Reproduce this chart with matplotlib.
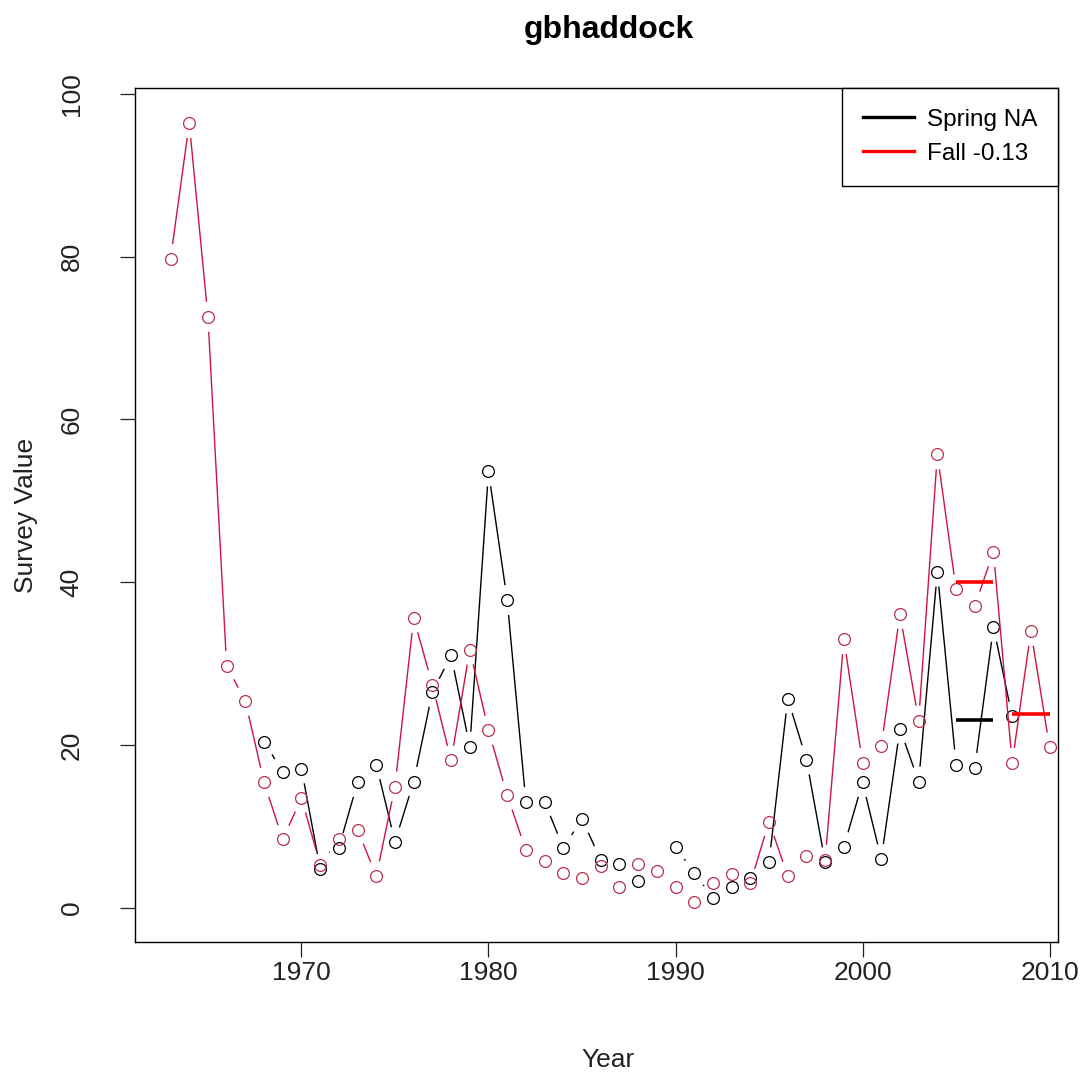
import numpy as np
import matplotlib
matplotlib.use("Agg")
import matplotlib.pyplot as plt
from matplotlib.lines import Line2D

plt.rcParams['font.family'] = ['Liberation Sans', 'DejaVu Sans']

# fall survey index, 1963-2010
fall_years = list(range(1963, 2011))
fall_vals = [79.7, 96.4, 72.6, 29.7, 25.4, 15.4, 8.4, 13.5, 5.3, 8.4,
             9.6, 3.9, 14.9, 35.6, 27.4, 18.1, 31.7, 21.8, 13.8, 7.1,
             5.7, 4.3, 3.7, 5.1, 2.5, 5.4, 4.5, 2.5, 0.7, 3.1,
             4.2, 3.0, 10.6, 3.9, 6.4, 5.9, 33.0, 17.8, 19.9, 36.1,
             23.0, 55.7, 39.1, 37.1, 43.7, 17.8, 34.0, 19.7]

# spring survey index, 1968-2008 (1989 missing)
spring_years = list(range(1968, 2009))
spring_vals = [20.4, 16.7, 17.1, 4.8, 7.4, 15.4, 17.6, 8.1, 15.5, 26.5,
               31.0, 19.8, 53.6, 37.8, 13.0, 13.0, 7.4, 10.9, 5.9, 5.4,
               3.3, np.nan, 7.5, 4.3, 1.2, 2.5, 3.6, 5.6, 25.7, 18.2,
               5.6, 7.5, 15.4, 6.0, 22.0, 15.5, 41.3, 17.6, 17.2, 34.5,
               23.5]

# periods averaged for the reference lines
fall_periods = [(2005, 2007), (2008, 2010)]
spring_periods = [(2005, 2007)]

title = "gbhaddock"
legend_labels = ["Spring NA", "Fall -0.13"]

line_red = "#d2123f"
point_red = "#b8304f"


def gapped_line(ax, x, y, color, gap=15, lw=1.0):
    # lines between points, stopping short of each marker (R type="b")
    pts = ax.transData.transform(np.column_stack([x, y]))
    inv = ax.transData.inverted()
    for p0, p1 in zip(pts[:-1], pts[1:]):
        if np.isnan(p0).any() or np.isnan(p1).any():
            continue
        d = p1 - p0
        length = np.hypot(d[0], d[1])
        if length <= 2 * gap:
            continue
        u = d / length
        seg = inv.transform(np.array([p0 + u * gap, p1 - u * gap]))
        ax.plot(seg[:, 0], seg[:, 1], color=color, lw=lw, solid_capstyle="butt")


def period_mean(years, vals, start, end):
    years = np.array(years)
    vals = np.array(vals, dtype=float)
    sel = (years >= start) & (years <= end)
    return np.nanmean(vals[sel])


fig = plt.figure(figsize=(10.86, 10.78), dpi=100)
ax = fig.add_axes([135 / 1086, 1 - 942 / 1078, 923 / 1086, 854 / 1078])
ax.set_xlim(1961.1, 2010.45)
ax.set_ylim(-4.2, 100.7)

# spring series
gapped_line(ax, spring_years, spring_vals, "black")
ax.plot(spring_years, spring_vals, linestyle="none", marker="o", ms=8.5,
        mfc="none", mec="black", mew=0.9)

# fall series
gapped_line(ax, fall_years, fall_vals, line_red)
ax.plot(fall_years, fall_vals, linestyle="none", marker="o", ms=8.5,
        mfc="none", mec=point_red, mew=0.9)

# period means
for start, end in spring_periods:
    m = period_mean(spring_years, spring_vals, start, end)
    ax.plot([start, end], [m, m], color="black", lw=2.6, solid_capstyle="butt")
for start, end in fall_periods:
    m = period_mean(fall_years, fall_vals, start, end)
    ax.plot([start, end], [m, m], color="red", lw=2.6, solid_capstyle="butt")

ax.set_xticks([1970, 1980, 1990, 2000, 2010])
ax.set_yticks([0, 20, 40, 60, 80, 100])
ax.tick_params(axis="both", direction="out", length=11, width=0.9,
               labelsize=19, colors="#222222")
ax.tick_params(axis="x", pad=3)
ax.tick_params(axis="y", pad=26, labelrotation=90)
for lab in ax.get_yticklabels():
    lab.set_va("center")
for sp in ax.spines.values():
    sp.set_linewidth(1.0)

ax.set_xlabel("Year", fontsize=19, color="#222222")
ax.set_ylabel("Survey Value", fontsize=19, color="#222222")
ax.xaxis.set_label_coords(0.513, -0.124)
ax.yaxis.set_label_coords(-0.105, 0.5)

fig.text(609 / 1086, 1 - 30 / 1078, title, ha="center", va="center",
         fontsize=23, fontweight="bold")

handles = [Line2D([], [], color="black", lw=2.4),
           Line2D([], [], color="red", lw=2.4)]
leg = ax.legend(handles, legend_labels, loc="upper right", borderaxespad=0,
                fancybox=False, edgecolor="black", framealpha=1,
                fontsize=17.5, handlelength=2.1, handletextpad=0.55,
                borderpad=0.85, labelspacing=0.5)
leg.get_frame().set_linewidth(1.0)

fig.savefig("out.png", dpi=100)
